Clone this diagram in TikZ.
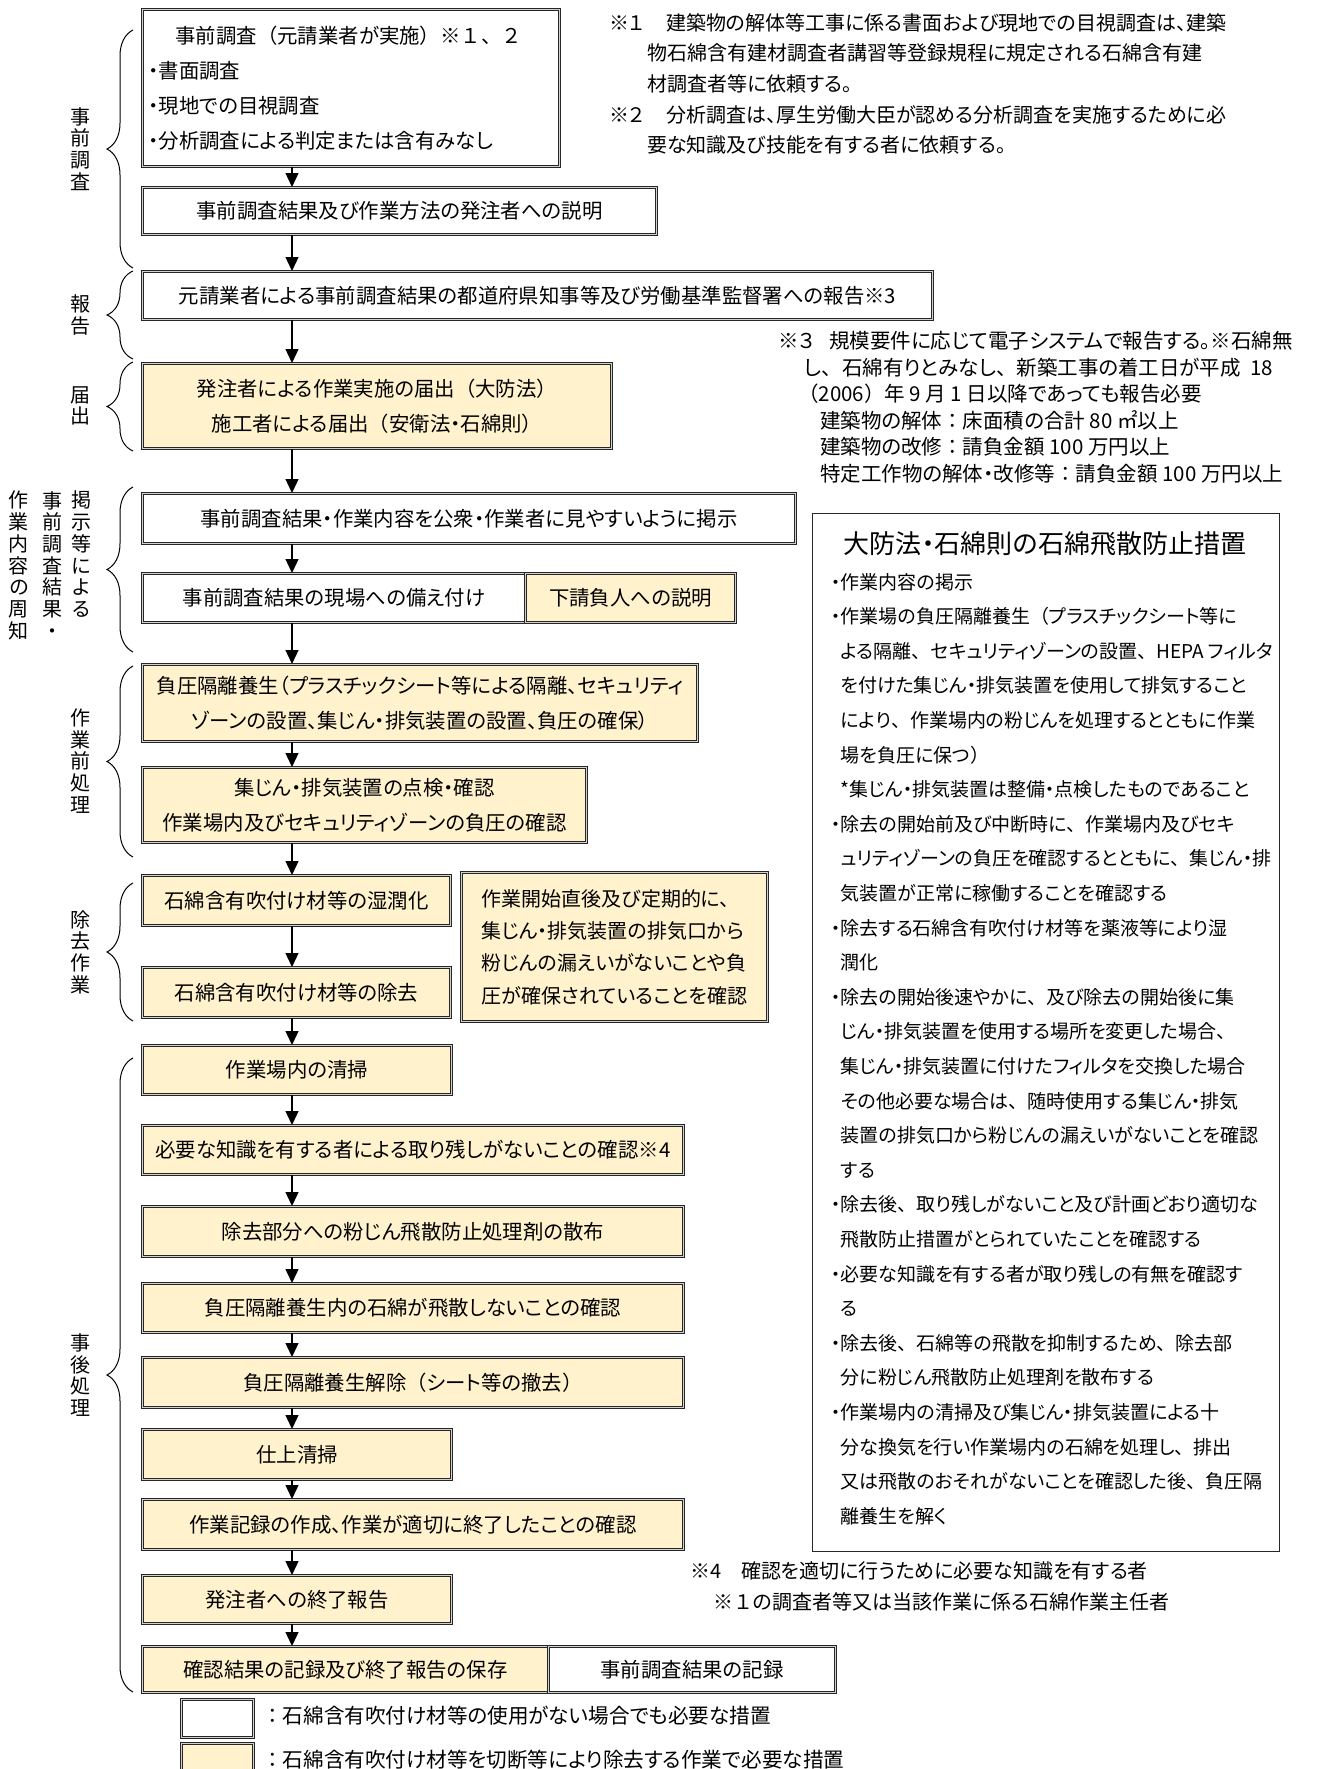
\documentclass[tikz,border=0pt]{standalone}
\usepackage{fontspec}
\setmainfont{Noto Sans CJK JP}[RawFeature=+palt]
\newfontfamily\fwfont{Noto Sans CJK JP}
\newcommand{\fw}[1]{{\fwfont#1}}
\usetikzlibrary{arrows.meta,decorations.pathreplacing}

\definecolor{boxyellow}{RGB}{255,242,204}

\tikzset{
  every node/.style={font=\fontsize{20}{35}\selectfont, inner sep=0pt},
  wbox/.style={draw=black!85, double=gray!35, double distance=1.4pt, line width=1pt,
    fill=white, anchor=north west, align=center, font=\fontsize{20.4}{35}\selectfont},
  ybox/.style={wbox, fill=boxyellow},
  arr/.style={-{Triangle[length=14pt,width=13pt]}, line width=1.3pt},
  brc/.style={decorate, decoration={brace,amplitude=26pt}, line width=1pt},
  vlab/.style={align=center, font=\fontsize{20}{21.7}\selectfont},
}

\begin{document}
\begin{tikzpicture}[x=1pt,y=-1pt]

    % Page
    \fill[white] (0,0) rectangle (1338,1769);
    \useasboundingbox (0,0) rectangle (1338,1769);

    % Main flow
    \node[wbox, text width=405, inner xsep=6, minimum height=157, align=left] (pre) at (142,9)
      {\hspace*{27pt}事前調査\fw{（}元請業者が実施\fw{）}※\fw{１、２}\\
       ・書面調査\\
       ・現地での目視調査\\
       ・分析調査による判定または含有みなし};
    \node[wbox, minimum width=514, minimum height=47] (expl) at (142,187) {事前調査結果及び作業方法の発注者への説明};
    \node[wbox, minimum width=790, minimum height=48] (rep) at (142,271) {元請業者による事前調査結果の都道府県知事等及び労働基準監督署への報告※3};
    \node[ybox, minimum width=469, minimum height=85] (notif) at (142,363)
      {発注者による作業実施の届出\fw{（}大防法\fw{）}\\施工者による届出\fw{（}安衛法・石綿則\fw{）}};
    \node[wbox, minimum width=653, minimum height=50] (post) at (142,493) {事前調査結果・作業内容を公衆・作業者に見やすいように掲示};
    \node[wbox, minimum width=383, minimum height=49] (keep) at (142,573) {事前調査結果の現場への備え付け};
    \node[ybox, minimum width=210, minimum height=49] (sub) at (525,573) {下請負人への説明};
    \node[ybox, minimum width=555, minimum height=77] (iso) at (142,664)
      {負圧隔離養生（プラスチックシート等による隔離、セキュリティ\\ゾーンの設置、集じん・排気装置の設置、負圧の確保）};
    \node[ybox, minimum width=444, minimum height=75] (chk) at (142,767)
      {集じん・排気装置の点検・確認\\作業場内及びセキュリティゾーンの負圧の確認};
    \node[ybox, minimum width=308, minimum height=50] (wet) at (142,875) {石綿含有吹付け材等の湿潤化};
    \node[ybox, minimum width=308, minimum height=50] (rem) at (142,967) {石綿含有吹付け材等の除去};
    \node[ybox, minimum width=306, minimum height=149, align=left, font=\fontsize{20}{32.4}\selectfont] (mon) at (461,872)
      {作業開始直後及び定期的に、\\
       集じん・排気装置の排気口から\\
       粉じんの漏えいがないことや負\\
       圧が確保されていることを確認};
    \node[ybox, minimum width=309, minimum height=49] (clean) at (142,1045) {作業場内の清掃};
    \node[ybox, minimum width=541, minimum height=49] (resid) at (142,1125) {必要な知識を有する者による取り残しがないことの確認※4};
    \node[ybox, minimum width=541, minimum height=50] (spray) at (142,1206) {除去部分への粉じん飛散防止処理剤の散布};
    \node[ybox, minimum width=541, minimum height=49] (conf) at (142,1283) {負圧隔離養生内の石綿が飛散しないことの確認};
    \node[ybox, minimum width=541, minimum height=50] (rel) at (142,1357) {負圧隔離養生解除\fw{（}シート等の撤去\fw{）}};
    \node[ybox, minimum width=309, minimum height=50] (fin) at (142,1429) {仕上清掃};
    \node[ybox, minimum width=541, minimum height=50] (rec) at (142,1499) {作業記録の作成、作業が適切に終了したことの確認};
    \node[ybox, minimum width=309, minimum height=48] (done) at (142,1575) {発注者への終了報告};
    \node[ybox, minimum width=406, minimum height=46] (save) at (142,1646) {確認結果の記録及び終了報告の保存};
    \node[wbox, minimum width=287, minimum height=46] (srec) at (548,1646) {事前調査結果の記録};

    % Arrows down the left column
    \coordinate (ax) at (292,0);
    \foreach \a/\b in {pre/expl, expl/rep, rep/notif, notif/post, post/keep, keep/iso, iso/chk,
                       chk/wet, wet/rem, rem/clean, clean/resid, resid/spray, spray/conf,
                       conf/rel, rel/fin, fin/rec, rec/done, done/save}
        \draw[arr] (\a.south -| ax) -- (\b.north -| ax);

    % Braces and stage labels
    \foreach \t/\b in {30/268, 271/359, 362/451, 487/652, 666/857, 883/1021, 1058/1692}
        \draw[brc] (133,\b) -- (133,\t);
    \node[vlab] (lpre) at (80,149) {事\\前\\調\\査};
    \node[vlab] (lrep) at (80,315) {報\\告};
    \node[vlab] (lnot) at (80,406) {届\\出};
    \node[vlab, anchor=north] (lpub) at (81,491) {掲\\示\\等\\に\\よ\\る};
    \node[vlab, anchor=north] (lres) at (52,491) {事\\前\\調\\査\\結\\果\\・};
    \node[vlab, anchor=north] (lcon) at (19,491) {作\\業\\内\\容\\の\\周\\知};
    \node[vlab] (lprep) at (80,761) {作\\業\\前\\処\\理};
    \node[vlab] (lrem) at (80,952) {除\\去\\作\\業};
    \node[vlab] (laft) at (80,1375) {事\\後\\処\\理};

    % Notes
    \node[anchor=north west, align=left, font=\fontsize{20}{30.7}\selectfont] (note12) at (609,13)
      {\makebox[57pt][l]{※１}建築物の解体等工事に係る書面および現地での目視調査は、建築\\
       \hspace*{38pt}物石綿含有建材調査者講習等登録規程に規定される石綿含有建\\
       \hspace*{38pt}材調査者等に依頼する。\\
       \makebox[57pt][l]{※２}分析調査は、厚生労働大臣が認める分析調査を実施するために必\\
       \hspace*{38pt}要な知識及び技能を有する者に依頼する。};
    \node[anchor=north west, align=left, font=\fontsize{20.5}{26.6}\selectfont] (note3) at (778,331)
      {\makebox[51pt][l]{※３}規模要件に応じて電子システムで報告する。※石綿無\\
       \hspace*{26pt}し\fw{、}石綿有りとみなし\fw{、}新築工事の着工日が平成 \ 18\\
       \hspace*{20pt}\fw{（}2006\fw{）}年 9 月 1 日以降であっても報告必要\\
       \hspace*{42pt}建築物の解体\fw{：}床面積の合計 80 ㎡以上\\
       \hspace*{42pt}建築物の改修\fw{：}請負金額 100 万円以上\\
       \hspace*{42pt}特定工作物の解体・改修等\fw{：}請負金額 100 万円以上};
    \node[anchor=north west, align=left, font=\fontsize{20}{31}\selectfont] (note4) at (690,1561)
      {\makebox[51pt][l]{※4}確認を適切に行うために必要な知識を有する者\\
       \hspace*{23pt}※\fw{１}の調査者等又は当該作業に係る石綿作業主任者};

    % Measures box on the right
    \node[draw=black!85, line width=1.3pt, minimum width=467, minimum height=1038, anchor=north west] (law) at (812,513) {};
    \node[font=\fontsize{26}{30}\selectfont] (lawhead) at (1045,544) {大防法・石綿則の石綿飛散防止措置};
    \node[anchor=north west, align=left, font=\fontsize{19}{34.6}\selectfont] (lawbody) at (831,573)
      {・作業内容の掲示\\
       ・作業場の負圧隔離養生\fw{（}プラスチックシート等に\\
       \phantom{・}よる隔離\fw{、}セキュリティゾーンの設置\fw{、}HEPA フィルタ\\
       \phantom{・}を付けた集じん・排気装置を使用して排気すること\\
       \phantom{・}により\fw{、}作業場内の粉じんを処理するとともに作業\\
       \phantom{・}場を負圧に保つ\fw{）}\\
       \phantom{・}*集じん・排気装置は整備・点検したものであること\\
       ・除去の開始前及び中断時に\fw{、}作業場内及びセキ\\
       \phantom{・}ュリティゾーンの負圧を確認するとともに\fw{、}集じん・排\\
       \phantom{・}気装置が正常に稼働することを確認する\\
       ・除去する石綿含有吹付け材等を薬液等により湿\\
       \phantom{・}潤化\\
       ・除去の開始後速やかに\fw{、}及び除去の開始後に集\\
       \phantom{・}じん・排気装置を使用する場所を変更した場合\fw{、}\\
       \phantom{・}集じん・排気装置に付けたフィルタを交換した場合\\
       \phantom{・}その他必要な場合は\fw{、}随時使用する集じん・排気\\
       \phantom{・}装置の排気口から粉じんの漏えいがないことを確認\\
       \phantom{・}する\\
       ・除去後\fw{、}取り残しがないこと及び計画どおり適切な\\
       \phantom{・}飛散防止措置がとられていたことを確認する\\
       ・必要な知識を有する者が取り残しの有無を確認す\\
       \phantom{・}る\\
       ・除去後\fw{、}石綿等の飛散を抑制するため\fw{、}除去部\\
       \phantom{・}分に粉じん飛散防止処理剤を散布する\\
       ・作業場内の清掃及び集じん・排気装置による十\\
       \phantom{・}分な換気を行い作業場内の石綿を処理し\fw{、}排出\\
       \phantom{・}又は飛散のおそれがないことを確認した後\fw{、}負圧隔\\
       \phantom{・}離養生を解く};

    % Legend
    \begin{scope}
        \clip (0,0) rectangle (1338,1769);
        \node[wbox, minimum width=72, minimum height=38] (lgw) at (181,1699) {};
        \node[ybox, minimum width=72, minimum height=42] (lgy) at (181,1743) {};
    \end{scope}
    \node[anchor=west, font=\fontsize{20.6}{25}\selectfont] (lgwt) at (262,1716) {\fw{：}石綿含有吹付け材等の使用がない場合でも必要な措置};
    \node[anchor=west, font=\fontsize{20.6}{25}\selectfont] (lgyt) at (262,1760) {\fw{：}石綿含有吹付け材等を切断等により除去する作業で必要な措置};

\end{tikzpicture}
\end{document}
